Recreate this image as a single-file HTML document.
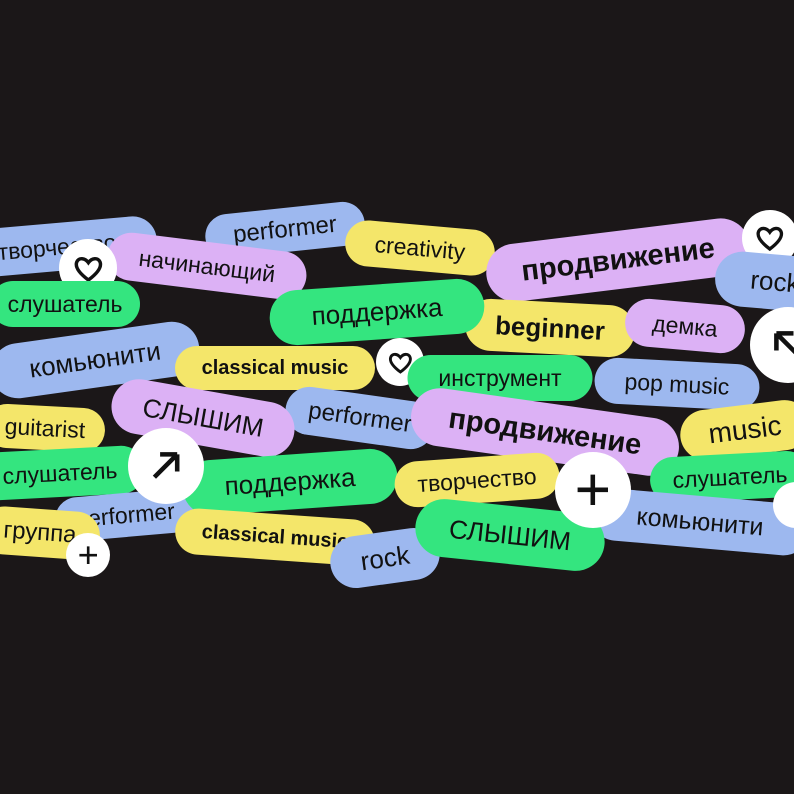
<!DOCTYPE html>
<html><head><meta charset="utf-8">
<style>
html,body{margin:0;padding:0;}
body{width:794px;height:794px;background:#1b1718;position:relative;overflow:hidden;font-family:"Liberation Sans","DejaVu Sans",sans-serif;}
.p{position:absolute;border-radius:999px;display:flex;align-items:center;justify-content:center;color:#111;white-space:nowrap;overflow:hidden;transform:translate(-50%,-50%) rotate(var(--r));left:var(--x);top:var(--y);width:var(--w);height:var(--h);font-size:var(--f,23px);}
.b{background:#9db8ef}.v{background:#dcb1f5}.g{background:#34e57f}.y{background:#f4e66a}
.bold{font-weight:bold}
.c{position:absolute;border-radius:50%;background:#fff;transform:translate(-50%,-50%);left:var(--x);top:var(--y);width:var(--d);height:var(--d);display:flex;align-items:center;justify-content:center;}
.c svg{width:60%;height:60%}
</style></head><body>
<div class="p b" style="--x:57px;--y:247px;--w:200px;--h:48px;--r:-5deg">творчество</div>
<div class="p b" style="--x:285px;--y:230px;--w:160px;--h:44px;--r:-6deg;--f:24px">performer</div>
<div class="p y" style="--x:420px;--y:248px;--w:150px;--h:46px;--r:5deg">creativity</div>
<div class="p v" style="--x:207px;--y:266px;--w:200px;--h:48px;--r:7deg">начинающий</div>
<div class="c" style="--x:88px;--y:268px;--d:58px"><svg viewBox="0 0 24 24"><path d="M12 20 C4 14 3 10 4 7.5 C5.5 4.5 9.5 4.5 12 8 C14.5 4.5 18.5 4.5 20 7.5 C21 10 20 14 12 20Z" fill="none" stroke="#111" stroke-width="2.4"/></svg></div>
<div class="p g" style="--x:65px;--y:304px;--w:150px;--h:46px;--r:0deg">слушатель</div>
<div class="p v bold" style="--x:618px;--y:260px;--w:265px;--h:58px;--r:-7deg;--f:29px">продвижение</div>
<div class="c" style="--x:770px;--y:238px;--d:56px"><svg viewBox="0 0 24 24"><path d="M12 20 C4 14 3 10 4 7.5 C5.5 4.5 9.5 4.5 12 8 C14.5 4.5 18.5 4.5 20 7.5 C21 10 20 14 12 20Z" fill="none" stroke="#111" stroke-width="2.4"/></svg></div>
<div class="p b" style="--x:775px;--y:282px;--w:120px;--h:55px;--r:5deg;--f:26px">rock</div>
<div class="p y bold" style="--x:550px;--y:328px;--w:170px;--h:52px;--r:3deg;--f:26px">beginner</div>
<div class="p g" style="--x:377px;--y:312px;--w:215px;--h:55px;--r:-4deg;--f:26px">поддержка</div>
<div class="p v" style="--x:685px;--y:326px;--w:120px;--h:48px;--r:5deg">демка</div>
<div class="c" style="--x:788px;--y:345px;--d:76px"><svg viewBox="0 0 24 24"><path d="M18 18 L6 6 M6 6 L6 15 M6 6 L15 6" fill="none" stroke="#111" stroke-width="2.4"/></svg></div>
<div class="p b" style="--x:95px;--y:360px;--w:210px;--h:55px;--r:-8deg;--f:26px">комьюнити</div>
<div class="p y bold" style="--x:275px;--y:368px;--w:200px;--h:44px;--r:0deg;--f:20px">classical music</div>
<div class="c" style="--x:400px;--y:362px;--d:48px"><svg viewBox="0 0 24 24"><path d="M12 20 C4 14 3 10 4 7.5 C5.5 4.5 9.5 4.5 12 8 C14.5 4.5 18.5 4.5 20 7.5 C21 10 20 14 12 20Z" fill="none" stroke="#111" stroke-width="2.4"/></svg></div>
<div class="p g" style="--x:500px;--y:378px;--w:185px;--h:46px;--r:0deg">инструмент</div>
<div class="p b" style="--x:677px;--y:384px;--w:165px;--h:46px;--r:3deg">pop music</div>
<div class="p y" style="--x:45px;--y:428px;--w:120px;--h:44px;--r:3deg">guitarist</div>
<div class="p b" style="--x:360px;--y:418px;--w:150px;--h:48px;--r:8deg;--f:24px">performer</div>
<div class="p v" style="--x:203px;--y:418px;--w:185px;--h:55px;--r:10deg;--f:26px">СЛЫШИМ</div>
<div class="p v bold" style="--x:545px;--y:432px;--w:270px;--h:58px;--r:8deg;--f:29px">продвижение</div>
<div class="p y" style="--x:745px;--y:430px;--w:130px;--h:50px;--r:-7deg;--f:28px">music</div>
<div class="p g" style="--x:60px;--y:473px;--w:170px;--h:48px;--r:-3deg">слушатель</div>
<div class="p b" style="--x:125px;--y:515px;--w:140px;--h:44px;--r:-5deg">performer</div>
<div class="p g" style="--x:290px;--y:482px;--w:215px;--h:55px;--r:-4deg;--f:26px">поддержка</div>
<div class="c" style="--x:166px;--y:466px;--d:76px"><svg viewBox="0 0 24 24"><path d="M6 18 L18 6 M18 6 L9 6 M18 6 L18 15" fill="none" stroke="#111" stroke-width="2.4"/></svg></div>
<div class="p y" style="--x:477px;--y:480px;--w:165px;--h:46px;--r:-4deg">творчество</div>
<div class="p g" style="--x:730px;--y:477px;--w:160px;--h:46px;--r:-3deg">слушатель</div>
<div class="p b" style="--x:700px;--y:522px;--w:220px;--h:52px;--r:5deg;--f:25px">комьюнити</div>
<div class="c" style="--x:796px;--y:505px;--d:46px"></div>
<div class="p y" style="--x:40px;--y:533px;--w:120px;--h:48px;--r:4deg;--f:24px">группа</div>
<div class="c" style="--x:88px;--y:555px;--d:44px"><svg viewBox="0 0 24 24"><path d="M12 4 V20 M4 12 H20" fill="none" stroke="#111" stroke-width="2.4"/></svg></div>
<div class="p y bold" style="--x:275px;--y:537px;--w:200px;--h:46px;--r:4deg;--f:20px">classical music</div>
<div class="p b" style="--x:385px;--y:558px;--w:110px;--h:52px;--r:-8deg;--f:26px">rock</div>
<div class="p g" style="--x:510px;--y:535px;--w:190px;--h:58px;--r:6deg;--f:26px">СЛЫШИМ</div>
<div class="c" style="--x:593px;--y:490px;--d:76px"><svg viewBox="0 0 24 24"><path d="M12 4 V20 M4 12 H20" fill="none" stroke="#111" stroke-width="2.4"/></svg></div>
</body></html>
